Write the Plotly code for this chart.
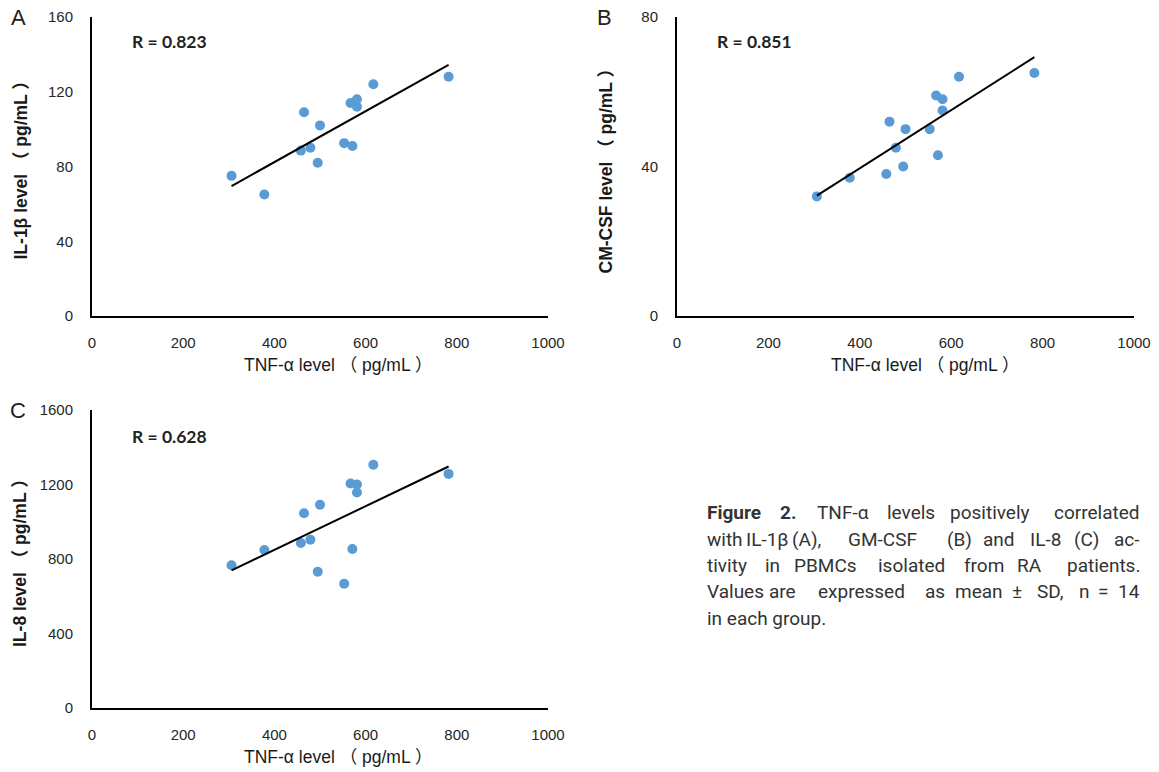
import numpy as np
import plotly.graph_objects as go

W, H = 1159, 772

# TNF-alpha level (pg/mL), shared x for all panels
tnf = [306, 378, 458, 465, 479, 495, 500, 553, 567, 571, 581, 581, 617, 782]
# Panel A: IL-1beta
il1b = [75, 65, 88.5, 109, 90, 82, 102, 92.5, 114, 91, 116, 112, 124, 128]
# Panel B: CM-CSF
gmcsf = [32, 37, 38, 52, 45, 40, 50, 50, 59, 43, 58, 55, 64, 65]
# Panel C: IL-8
il8 = [766, 848, 886, 1046, 904, 732, 1091, 667, 1205, 854, 1200, 1157, 1306, 1257]

x_title = "TNF-α level （ pg/mL ）"
panels = [
    dict(letter="A", ys=il1b, r="R = 0.823", ytitle="IL-1β level （ pg/mL ）", yrange=[0, 160], dtick=40,
         box=(92, 548, 17, 316), ytx=20, xtx=338, xty=365, rx=130, ry=42, lx=18, ly=18),
    dict(letter="B", ys=gmcsf, r="R = 0.851", ytitle="CM-CSF level （ pg/mL ）", yrange=[0, 80], dtick=40,
         box=(677, 1134, 17, 316), ytx=605, xtx=925, xty=365, rx=715, ry=42, lx=604, ly=18),
    dict(letter="C", ys=il8, r="R = 0.628", ytitle="IL-8 level （ pg/mL ）", yrange=[0, 1600], dtick=400,
         box=(92, 548, 410, 708), ytx=20, xtx=338, xty=757, rx=130, ry=436, lx=18, ly=410),
]

def px(x):
    return x / W

def py(y):
    return 1 - y / H

fig = go.Figure()
annotations = []
layout = {}
for i, p in enumerate(panels):
    n = "" if i == 0 else str(i + 1)
    xa, ya = "x" + n, "y" + n
    x0, x1, y0, y1 = p["box"]
    fig.add_trace(go.Scatter(x=tnf, y=p["ys"], mode="markers", xaxis=xa, yaxis=ya,
                             marker=dict(color="#5B9BD5", size=10), showlegend=False))
    k, b = np.polyfit(tnf, p["ys"], 1)
    xs = [min(tnf), max(tnf)]
    fig.add_trace(go.Scatter(x=xs, y=[k * v + b for v in xs], mode="lines", xaxis=xa, yaxis=ya,
                             line=dict(color="black", width=2), showlegend=False))
    axfont = dict(family="Liberation Sans, Arial, sans-serif", size=15, color="#262626")
    layout["xaxis" + n] = dict(domain=[px(x0), px(x1)], range=[0, 1000], dtick=200, anchor=ya,
                               showline=True, linecolor="black", linewidth=2, showgrid=False,
                               zeroline=False, ticks="", tickfont=axfont, ticklabelstandoff=12,
                               automargin=False, fixedrange=True)
    layout["yaxis" + n] = dict(domain=[py(y1), py(y0)], range=p["yrange"], dtick=p["dtick"], anchor=xa,
                               showline=True, linecolor="black", linewidth=2, showgrid=False,
                               zeroline=False, ticks="", tickfont=axfont, ticklabelstandoff=14,
                               automargin=False, fixedrange=True)
    tfont = dict(family="Liberation Sans, Arial, Noto Sans CJK SC, sans-serif", size=17.5, color="#1a1a1a")
    annotations.append(dict(text="<b>" + p["ytitle"] + "</b>", x=px(p["ytx"]), y=py((y0 + y1) / 2),
                            xref="paper", yref="paper", textangle=-90, showarrow=False,
                            font=tfont, xanchor="center", yanchor="middle"))
    annotations.append(dict(text=x_title, x=px(p["xtx"]), y=py(p["xty"]),
                            xref="paper", yref="paper", showarrow=False,
                            font=tfont, xanchor="center", yanchor="middle"))
    annotations.append(dict(text="<b>" + p["r"] + "</b>", x=px(p["rx"]), y=py(p["ry"]),
                            xref="paper", yref="paper", showarrow=False, xanchor="left", yanchor="middle",
                            font=dict(family="Lato, Liberation Sans, sans-serif", size=17.5, color="#222222")))
    annotations.append(dict(text=p["letter"], x=px(p["lx"]), y=py(p["ly"]),
                            xref="paper", yref="paper", showarrow=False, xanchor="center", yanchor="middle",
                            font=dict(family="Liberation Sans, Arial, sans-serif", size=22, color="#222222")))

# Caption, justified: word start positions.
# First word is left-aligned, last word right-aligned, others centred in their slot.
cap_font = dict(family="Roboto, Liberation Sans, sans-serif", size=19, color="#333333")
CAP_RIGHT = 1142
GAP = 7
cap_lines = [
    (512, [("<b>Figure</b>", 705), ("<b>2.</b>", 778), ("TNF-α", 805), ("levels", 888),
           ("positively", 940), ("correlated", 1047)]),
    (539, [("with", 705), ("IL-1β", 751), ("(A),", 792), ("GM-CSF", 827), ("(B)", 945),
           ("and", 980), ("IL-8", 1025), ("(C)", 1072), ("ac-", 1108)]),
    (565, [("tivity", 705), ("in", 762), ("PBMCs", 790), ("isolated", 867), ("from", 962),
           ("RA", 1012), ("patients.", 1053)]),
    (591, [("Values", 705), ("are", 767), ("expressed", 805), ("as", 925), ("mean", 952),
           ("±", 1012), ("SD,", 1030), ("n", 1078), ("=", 1098), ("14", 1115)]),
    (618, [("in each group.", 705)]),
]
for yy, words in cap_lines:
    last = len(words) - 1
    for j, (word, xx) in enumerate(words):
        if j == 0:
            xpos, anchor = xx, "left"
        elif j == last:
            xpos, anchor = CAP_RIGHT, "right"
        else:
            xpos, anchor = (xx + words[j + 1][1] - GAP) / 2, "center"
        annotations.append(dict(text=word, x=px(xpos), y=py(yy), xref="paper", yref="paper",
                                showarrow=False, xanchor=anchor, yanchor="middle", font=cap_font))

fig.update_layout(width=W, height=H, margin=dict(l=0, r=0, t=0, b=0, pad=0, autoexpand=False),
                  plot_bgcolor="white", paper_bgcolor="white", annotations=annotations, **layout)
fig.write_html("out.html", config={"displayModeBar": False},
               post_script="document.body.style.margin='0';document.body.style.overflow='hidden';")
